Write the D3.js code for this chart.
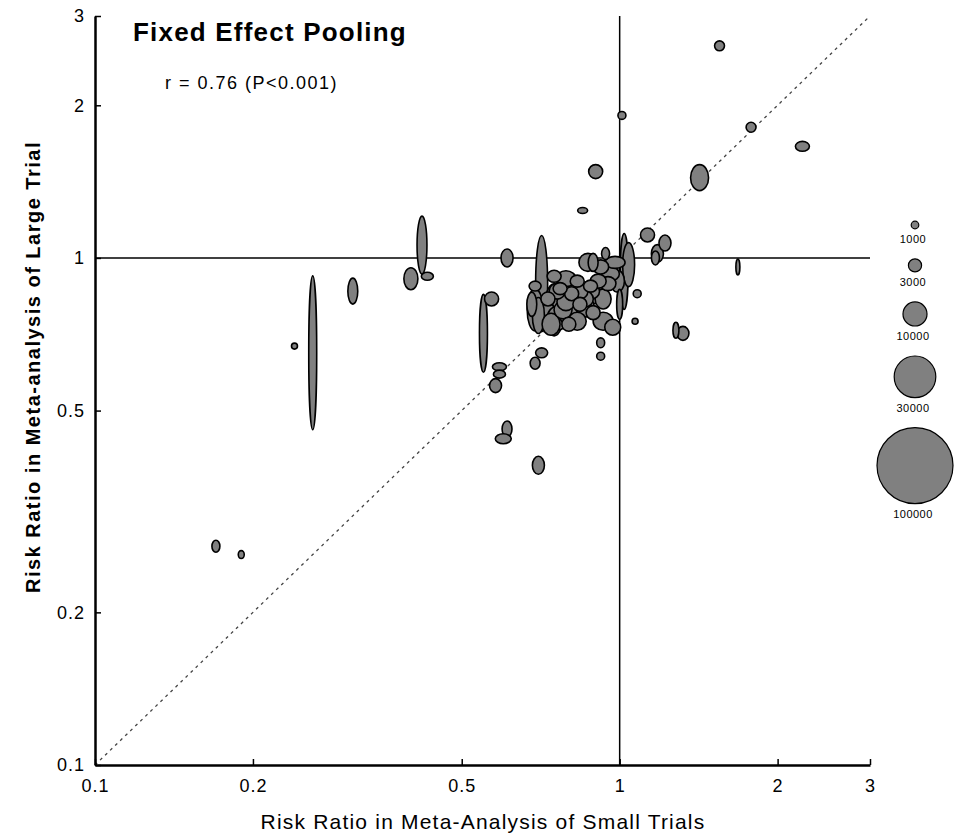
<!DOCTYPE html>
<html>
<head>
<meta charset="utf-8">
<script src="https://cdn.jsdelivr.net/npm/d3@7"></script>
<style>
  body { margin: 0; background: #fff; }
  svg { font-family: Arial, "Liberation Sans", sans-serif; }
</style>
</head>
<body>
<svg id="chart" width="964" height="839"></svg>
<script>
// risk ratio in meta-analysis of small trials (x) and in the large trial (y)
var rrSmall = [0.17, 0.19, 0.24, 0.26, 0.31, 0.40, 0.42, 0.43, 0.55, 0.57,
               0.59, 0.59, 0.58, 0.61, 0.60, 0.70, 0.71, 0.69, 0.61, 0.71,
               0.69, 0.70, 0.75, 0.79, 0.75, 0.69, 0.81, 0.86, 0.89, 0.83,
               0.87, 0.89, 0.94, 1.02, 1.04, 0.98, 0.96, 0.95, 0.90, 0.93,
               0.97, 0.92, 0.92, 1.08, 1.13, 1.22, 1.18, 1.17, 1.68, 1.28,
               1.32, 1.55, 1.01, 1.78, 2.23, 1.42, 0.90, 0.85, 1.07, 0.78,
               0.73, 0.80, 0.84, 0.91, 0.88, 0.83, 1.00, 0.77, 0.68, 0.72,
               0.76, 0.79, 0.82, 0.86, 0.88, 0.93, 0.84, 0.95, 0.92, 0.99,
               0.76, 0.74, 0.80];
var rrLarge = [0.27, 0.26, 0.67, 0.65, 0.86, 0.91, 1.06, 0.92, 0.71, 0.83,
               0.61, 0.59, 0.56, 0.46, 0.44, 0.39, 0.65, 0.62, 1.00, 0.89,
               0.79, 0.77, 0.79, 0.91, 0.92, 0.88, 0.85, 0.83, 0.78, 0.75,
               0.98, 0.98, 1.02, 0.94, 0.97, 0.98, 0.93, 0.89, 0.85, 0.75,
               0.73, 0.68, 0.64, 0.85, 1.11, 1.07, 1.02, 1.00, 0.96, 0.72,
               0.71, 2.62, 1.91, 1.81, 1.66, 1.44, 1.48, 1.24, 0.75, 0.79,
               0.83, 0.74, 0.81, 0.90, 0.88, 0.90, 0.81, 0.87, 0.81, 0.78,
               0.76, 0.82, 0.79, 0.80, 0.86, 0.83, 0.86, 0.95, 0.96, 0.90,
               0.86, 0.74, 0.77];
// patients in the small trials (ellipse width) and in the large trial (ellipse height)
var nSmall = [1100, 620, 620, 1100, 1700, 3400, 1700, 2500, 1100, 3400,
              3400, 2500, 2500, 1700, 4400, 2500, 2500, 1700, 2500, 2500,
              4400, 2500, 6900, 6900, 3400, 2500, 3400, 4400, 3400, 5600,
              5600, 1700, 1100, 1100, 2500, 6900, 5600, 4400, 5600, 6900,
              4400, 1100, 1100, 1100, 3400, 2500, 2500, 1100, 280, 620,
              2500, 1700, 1100, 1700, 3400, 5600, 3400, 1700, 620, 5600,
              3400, 3400, 3400, 4400, 3400, 3400, 620, 3400, 1700, 6900,
              6900, 5600, 6900, 5600, 5600, 4400, 4400, 5600, 4400, 3400,
              4400, 5600, 5600];
var nLarge = [2500, 1100, 620, 410000, 11700, 8400, 58200, 1100, 105000, 3400,
              1100, 1100, 3400, 4400, 1700, 5600, 1700, 2500, 5600, 160000,
              30500, 22400, 46800, 4400, 2500, 1700, 3400, 4400, 3400, 5600,
              5600, 5600, 2500, 100000, 33500, 2500, 3400, 3400, 6900, 5600,
              4400, 1700, 1100, 1100, 3400, 4400, 5600, 3400, 4400, 4400,
              3400, 1700, 1100, 1700, 1700, 11700, 3400, 620, 620, 5600,
              3400, 3400, 3400, 3400, 2500, 2500, 15600, 2500, 10000, 11700,
              10000, 5600, 5600, 6900, 4400, 6900, 4400, 4400, 3400, 8400,
              4400, 8400, 6900];

var axisTicks = [0.1, 0.2, 0.5, 1, 2, 3];
var legendSizes = [1000, 3000, 10000, 30000, 100000];

var svg = d3.select("#chart");

var x = d3.scaleLog().domain([0.1, 3]).range([95, 870]);
var y = d3.scaleLog().domain([0.1, 3]).range([765, 16]);
var r = d3.scaleSqrt().domain([0, 100000]).range([0, 38]);

var data = rrSmall.map(function(d, i) {
    return { xs: d, ys: rrLarge[i], ns: nSmall[i], nl: nLarge[i] };
});
// biggest first so small ones stay visible
data.sort(function(a, b) { return b.ns * b.nl - a.ns * a.nl; });

// line of identity
svg.append("line")
    .attr("x1", x(0.1)).attr("y1", y(0.1))
    .attr("x2", x(3)).attr("y2", y(3))
    .attr("stroke", "#444")
    .attr("stroke-width", 1.3)
    .attr("stroke-dasharray", "3,4");

// reference lines at RR = 1
svg.append("line")
    .attr("x1", x(0.1)).attr("x2", x(3))
    .attr("y1", y(1)).attr("y2", y(1))
    .attr("stroke", "#000").attr("stroke-width", 1.5);
svg.append("line")
    .attr("x1", x(1)).attr("x2", x(1))
    .attr("y1", y(3)).attr("y2", y(0.1))
    .attr("stroke", "#000").attr("stroke-width", 1.5);

svg.append("g")
    .selectAll("ellipse")
    .data(data)
    .enter()
    .append("ellipse")
    .attr("cx", function(d) { return x(d.xs); })
    .attr("cy", function(d) { return y(d.ys); })
    .attr("rx", function(d) { return r(d.ns); })
    .attr("ry", function(d) { return r(d.nl); })
    .attr("fill", "#808080")
    .attr("stroke", "#000")
    .attr("stroke-width", 1.6);

var fmt = d3.format("");

var xAxis = svg.append("g")
    .attr("transform", "translate(0," + y(0.1) + ")")
    .call(d3.axisBottom(x).tickValues(axisTicks).tickFormat(fmt)
        .tickSizeInner(-6).tickSizeOuter(0).tickPadding(14));
var yAxis = svg.append("g")
    .attr("transform", "translate(" + x(0.1) + ",0)")
    .call(d3.axisLeft(y).tickValues(axisTicks).tickFormat(fmt)
        .tickSizeInner(-6).tickSizeOuter(0).tickPadding(10));

[xAxis, yAxis].forEach(function(g) {
    g.select(".domain").attr("stroke", "#000").attr("stroke-width", 2.5);
    g.selectAll(".tick line").attr("stroke", "#000").attr("stroke-width", 1.5);
    g.selectAll(".tick text")
        .attr("fill", "#000")
        .style("font-size", "18px")
        .style("letter-spacing", "1px")
        .style("font-family", "Arial, 'Liberation Sans', sans-serif");
});

svg.append("text")
    .attr("x", 133).attr("y", 41)
    .attr("font-size", 26).attr("font-weight", "bold")
    .attr("letter-spacing", 1.2)
    .attr("fill", "#000")
    .text("Fixed Effect Pooling");

svg.append("text")
    .attr("x", 165).attr("y", 89)
    .attr("font-size", 18)
    .attr("letter-spacing", 1.5)
    .attr("fill", "#000")
    .text("r = 0.76 (P<0.001)");

svg.append("text")
    .attr("x", 483).attr("y", 829)
    .attr("text-anchor", "middle")
    .attr("font-size", 21)
    .attr("letter-spacing", 1.2)
    .attr("fill", "#000")
    .text("Risk Ratio in Meta-Analysis of Small Trials");

svg.append("text")
    .attr("transform", "translate(40,367) rotate(-90)")
    .attr("text-anchor", "middle")
    .attr("font-size", 20).attr("font-weight", "bold")
    .attr("letter-spacing", 1.5)
    .attr("fill", "#000")
    .text("Risk Ratio in Meta-analysis of Large Trial");

// bubble size legend, stacked from top
var legend = svg.append("g");
var cy = 225 - r(legendSizes[0]);
legendSizes.forEach(function(n, i) {
    var rad = r(n);
    if (i > 0) cy += 30;
    var c = cy + rad;
    legend.append("circle")
        .attr("cx", 915).attr("cy", c).attr("r", rad)
        .attr("fill", "#808080").attr("stroke", "#000").attr("stroke-width", 1.2);
    legend.append("text")
        .attr("x", 913).attr("y", c + rad + 14)
        .attr("text-anchor", "middle")
        .attr("font-size", 11)
        .attr("letter-spacing", 0.5)
        .attr("fill", "#000")
        .attr("opacity", 0.99)
        .text(n);
    cy = c + rad;
});
</script>
</body>
</html>
